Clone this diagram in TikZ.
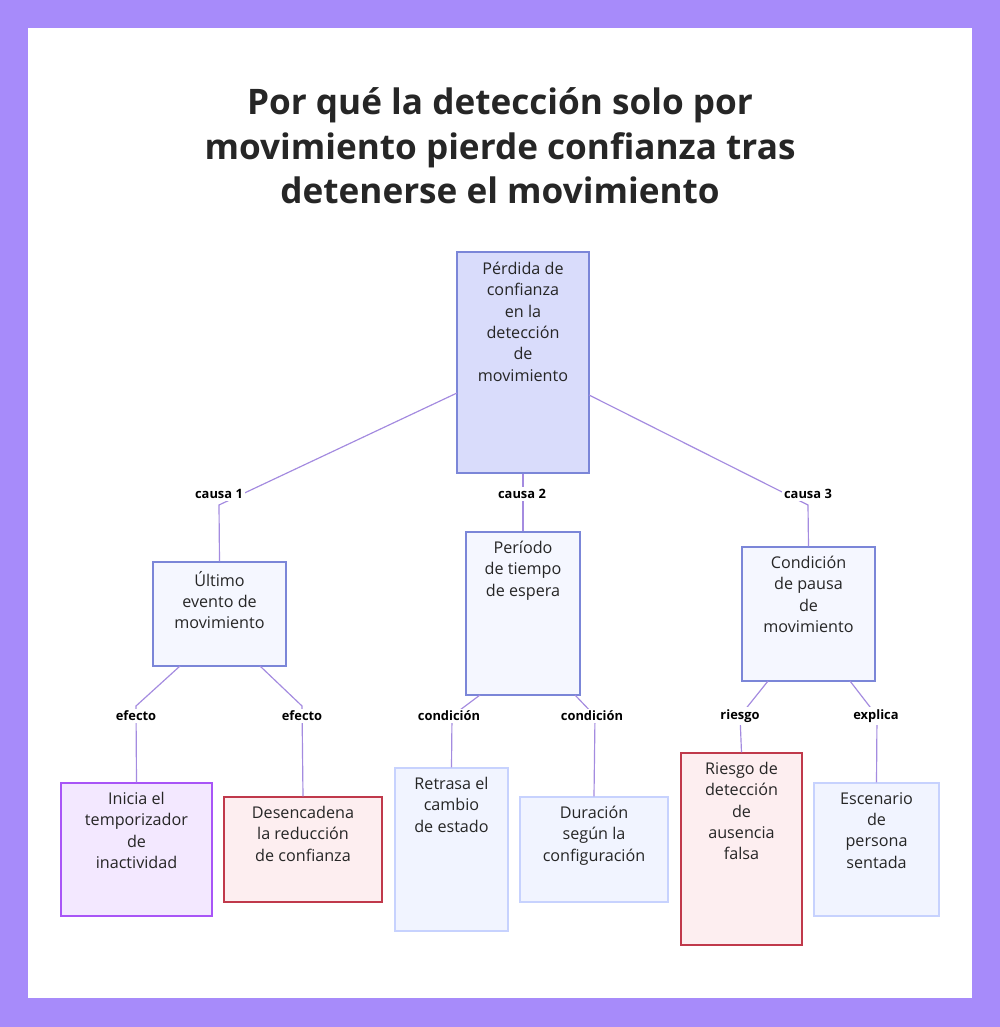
\documentclass[tikz,border=0pt]{standalone}
\usepackage{fontspec}
\setmainfont{Open Sans}
\usetikzlibrary{positioning}
\definecolor{frame}{HTML}{A78BFA}
\definecolor{edge}{HTML}{A48BE0}
\definecolor{rootfill}{HTML}{D9DCFB}
\definecolor{rootdraw}{HTML}{7B86D8}
\definecolor{midfill}{HTML}{F5F7FF}
\definecolor{purpfill}{HTML}{F3E8FF}
\definecolor{purpdraw}{HTML}{A855F7}
\definecolor{redfill}{HTML}{FDEEF0}
\definecolor{reddraw}{HTML}{C0394B}
\definecolor{bluefill}{HTML}{F1F4FF}
\definecolor{bluedraw}{HTML}{C7D2FE}
\begin{document}
\begin{tikzpicture}[x=0.03cm,y=-0.03cm,
box/.style={draw, line width=1pt, inner sep=0pt},
txt/.style={align=center, anchor=north, inner sep=0pt,
  font=\fontsize{13.8}{18.2}\selectfont, text=black!85},
mid/.style={box, fill=midfill, draw=rootdraw},
lbl/.style={fill=white, inner sep=2pt, font=\fontsize{11}{13}\selectfont\bfseries},
link/.style={draw=edge, line width=1pt}
]
%% Frame
\fill[frame] (0,0) rectangle (1000,1027);
\fill[white] (28,28) rectangle (972,998);
%% Title
\node[align=center, font=\fontsize{30}{38}\selectfont\bfseries, text=black!85] (title) at (500,146)
{Por qué la detección solo por\\movimiento pierde confianza tras\\detenerse el movimiento};
%% Root
\node[box, fill=rootfill, draw=rootdraw, minimum width=132*0.03cm, minimum height=221*0.03cm] (root) at (523,362.5) {};
\node[txt] (roottxt) at (523,262) {Pérdida de\\confianza\\en la\\detección\\de\\movimiento};
%% Causes
\node[mid, minimum width=133*0.03cm, minimum height=104*0.03cm] (last) at (219.5,614) {};
\node[txt] (lasttxt) at (219.5,571) {Último\\evento de\\movimiento};
\node[mid, minimum width=114*0.03cm, minimum height=163*0.03cm] (wait) at (523,613.5) {};
\node[txt] (waittxt) at (523,541) {Período\\de tiempo\\de espera};
\node[mid, minimum width=133*0.03cm, minimum height=134*0.03cm] (pause) at (808.5,614) {};
\node[txt] (pausetxt) at (808.5,556) {Condición\\de pausa\\de\\movimiento};
%% Leaves
\node[box, fill=purpfill, draw=purpdraw, minimum width=151*0.03cm, minimum height=133*0.03cm] (timer) at (136.5,849.5) {};
\node[txt] (timertxt) at (136.5,792) {Inicia el\\temporizador\\de\\inactividad};
\node[box, fill=redfill, draw=reddraw, minimum width=158*0.03cm, minimum height=105*0.03cm] (reduce) at (303,849.5) {};
\node[txt] (reducetxt) at (303,806) {Desencadena\\la reducción\\de confianza};
\node[box, fill=bluefill, draw=bluedraw, minimum width=113*0.03cm, minimum height=163*0.03cm] (delay) at (451.5,849.5) {};
\node[txt] (delaytxt) at (451.5,777) {Retrasa el\\cambio\\de estado};
\node[box, fill=bluefill, draw=bluedraw, minimum width=148*0.03cm, minimum height=105*0.03cm] (dur) at (594,849.5) {};
\node[txt] (durtxt) at (594,806) {Duración\\según la\\configuración};
\node[box, fill=redfill, draw=reddraw, minimum width=121*0.03cm, minimum height=192*0.03cm] (risk) at (741.5,849) {};
\node[txt] (risktxt) at (741.5,762) {Riesgo de\\detección\\de\\ausencia\\falsa};
\node[box, fill=bluefill, draw=bluedraw, minimum width=125*0.03cm, minimum height=133*0.03cm] (seat) at (876.5,849.5) {};
\node[txt] (seattxt) at (876.5,792) {Escenario\\de\\persona\\sentada};
%% Connectors
\coordinate (r1) at (457,393);
\coordinate (r3) at (589,395);
\coordinate (k1) at (219,505);
\coordinate (k3) at (808,505);
\path[link] (r1) -- (k1) -- (last.north);
\path[link] (root.south) -- (wait.north);
\path[link] (r3) -- (k3) -- (pause.north);
\node[lbl] (c1) at (219,494) {causa 1};
\node[lbl] (c2) at (522,494) {causa 2};
\node[lbl] (c3) at (808,494) {causa 3};
\coordinate (a1) at (180,666);  \coordinate (b1) at (136,706);
\coordinate (a2) at (260,666);  \coordinate (b2) at (302,706);
\coordinate (a3) at (480,695);  \coordinate (b3) at (452,716);
\coordinate (a4) at (575,695);  \coordinate (b4) at (595,716);
\coordinate (a5) at (768,681);  \coordinate (b5) at (740,716);
\coordinate (a6) at (850,681);  \coordinate (b6) at (877,716);
\path[link] (a1) -- (b1) -- (timer.north);
\path[link] (a2) -- (b2) -- (reduce.north);
\path[link] (a3) -- (b3) -- (delay.north);
\path[link] (a4) -- (b4) -- (dur.north);
\path[link] (a5) -- (b5) -- (risk.north);
\path[link] (a6) -- (b6) -- (seat.north);
\node[lbl] (e1) at (136,716) {efecto};
\node[lbl] (e2) at (302,716) {efecto};
\node[lbl] (e3) at (449,716) {condición};
\node[lbl] (e4) at (592,716) {condición};
\node[lbl] (e5) at (740,716) {riesgo};
\node[lbl] (e6) at (876,716) {explica};
\end{tikzpicture}
\end{document}
